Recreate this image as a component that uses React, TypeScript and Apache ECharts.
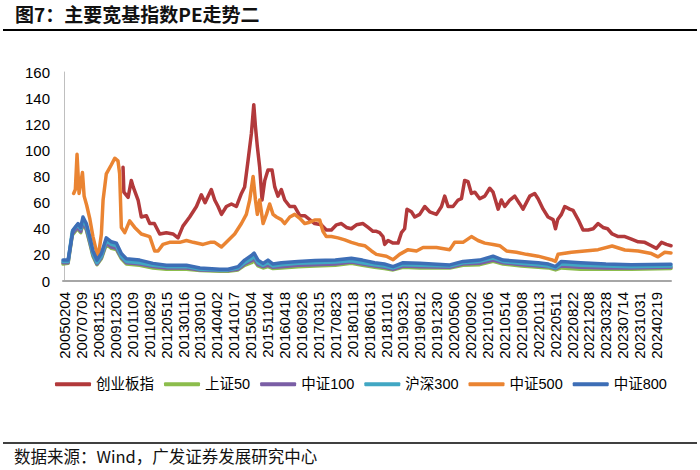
import React, { useEffect, useRef } from "react";
import * as echarts from "echarts";

const dateLabels = ["20050204","20070709","20081125","20091203","20101109","20110829","20120515","20130116","20130910","20140402","20141017","20150504","20151104","20160418","20160926","20170315","20170823","20180118","20180613","20181101","20190325","20190812","20191230","20200506","20200902","20210106","20210514","20210908","20220113","20220511","20220822","20221208","20230328","20230714","20231031","20240219"];

const seriesNames = ["创业板指", "上证50", "中证100", "沪深300", "中证500", "中证800"];
const seriesColors = ["#b2393b", "#8cbd4c", "#7a5ea5", "#41a7c3", "#ea8432", "#3d6eb6"];

// [label-index position, PE]
const cybData = [[3.45,87],[3.5,68],[3.75,64],[3.94,77],[4.05,72],[4.34,62],[4.53,49],[4.83,50],[5.03,44],[5.3,44],[5.62,36],[6.01,37],[6.4,36],[6.7,33],[6.99,42],[7.39,49],[7.79,57],[8.08,66],[8.3,60],[8.67,70],[8.87,62],[9.07,57],[9.27,51],[9.56,57],[9.86,59],[10.15,57],[10.45,67],[10.64,72],[10.84,92],[11.04,113],[11.18,135],[11.28,118],[11.39,103],[11.53,87],[11.67,62],[11.83,77],[12.02,85],[12.26,85],[12.42,72],[12.61,65],[12.81,70],[13.01,62],[13.31,57],[13.6,57],[13.9,50],[14.19,50],[14.49,47],[14.78,44],[15.18,43],[15.47,39],[15.77,39],[16.07,43],[16.36,44],[16.66,41],[16.95,40],[17.25,43],[17.64,44],[17.94,41],[18.23,38],[18.43,38],[18.62,37],[18.82,34],[18.92,28],[19.12,31],[19.42,29],[19.71,29],[19.91,37],[20.1,40],[20.24,55],[20.5,53],[20.7,49],[20.99,51],[21.29,57],[21.58,53],[21.98,51],[22.28,57],[22.47,65],[22.67,57],[22.96,57],[23.26,62],[23.46,63],[23.65,77],[23.85,76],[24.05,67],[24.25,68],[24.54,63],[24.84,65],[25.13,71],[25.33,68],[25.63,55],[25.82,62],[26.02,57],[26.32,62],[26.61,65],[26.91,59],[27.1,55],[27.3,60],[27.5,65],[27.79,67],[27.99,63],[28.29,55],[28.58,49],[28.88,47],[29.02,40],[29.15,47],[29.37,51],[29.57,57],[29.86,55],[30.06,54],[30.36,47],[30.65,39],[30.95,39],[31.25,40],[31.54,44],[31.83,41],[32.1,40],[32.37,36],[32.73,34],[33.12,34],[33.51,32],[33.91,30],[34.3,29.6],[34.69,27],[34.99,25],[35.29,29.6],[35.58,28],[35.85,27]];

const sz50Data = [[-0.1,13],[0.2,13.5],[0.45,35],[0.75,40],[0.95,37],[1.08,44],[1.28,39],[1.48,29],[1.67,19],[1.91,12.5],[2.17,17],[2.46,28],[2.76,25],[3.06,24],[3.35,17],[3.65,13],[4.43,12],[5.22,10],[6.01,9],[7.2,9],[8.0,8],[9.17,7.5],[9.66,7.5],[10.25,8.5],[10.64,12],[11.04,14],[11.2,15.5],[11.43,11.5],[11.73,10],[12.02,11],[12.32,9.5],[12.81,10],[13.8,11],[14.8,11.5],[16.0,12],[16.95,13.5],[17.6,12],[18.33,10.5],[18.9,9.5],[19.42,8.5],[20.01,10.5],[21.0,10],[22.77,10],[23.55,12],[24.54,12.5],[25.33,15],[25.92,13],[27.0,11.5],[28.0,10.5],[28.6,10],[29.02,8.5],[29.37,10],[30.5,9],[32.0,9],[33.5,9],[35.85,9.5]];

const zz100Data = [[-0.1,14],[0.2,14],[0.45,36],[0.75,41],[0.95,38],[1.08,45],[1.28,40],[1.48,30],[1.67,20],[1.91,13],[2.17,18],[2.46,29],[2.76,26],[3.06,25],[3.35,18],[3.65,14],[4.43,13],[5.22,11],[6.01,10],[7.2,10],[8.0,8.5],[9.17,8],[9.66,8],[10.25,9],[10.64,13],[11.04,15.5],[11.2,17],[11.43,12.5],[11.73,11],[12.02,12],[12.32,10.5],[12.81,11],[13.8,12],[14.8,12.5],[16.0,13],[16.95,14.5],[17.6,13],[18.33,11.5],[18.9,10.5],[19.42,9],[20.01,11.5],[21.0,11],[22.77,10.5],[23.55,13],[24.54,13.5],[25.33,16],[25.92,14],[27.0,12.5],[28.0,11.5],[28.6,11],[29.02,9.5],[29.37,11.5],[30.5,10.5],[32.0,10],[33.5,10],[35.85,10.5]];

const hs300Data = [[-0.1,15],[0.2,15],[0.45,38],[0.75,43],[0.95,40],[1.08,47],[1.28,42],[1.48,32],[1.67,21],[1.91,14],[2.17,19],[2.46,31],[2.76,28],[3.06,27],[3.35,19],[3.65,15],[4.43,14],[5.22,12],[6.01,11],[7.2,11],[8.0,9],[9.17,8.5],[9.66,8.5],[10.25,10],[10.64,14],[11.04,17],[11.2,19],[11.43,14],[11.73,12],[12.02,14],[12.32,11.5],[12.81,12.5],[13.8,13.5],[14.8,14],[16.0,14.5],[16.95,15.5],[17.6,14],[18.33,12.5],[18.9,11.5],[19.42,10],[20.01,12.5],[21.0,12],[22.77,11.5],[23.55,14],[24.54,15],[25.33,17.5],[25.92,15],[27.0,13.5],[28.0,12.5],[28.6,11.5],[29.02,10],[29.37,13],[30.5,12],[32.0,11.5],[33.5,11],[35.85,11.5]];

const zz500Data = [[0.53,67],[0.63,70],[0.73,97],[0.85,67],[1.05,83],[1.15,65],[1.3,58],[1.48,48],[1.67,34],[1.91,21],[1.98,18],[2.17,36],[2.27,62],[2.46,82],[2.76,89],[2.96,94],[3.15,92],[3.25,82],[3.35,41],[3.55,37],[3.84,46],[4.14,41],[4.53,36],[5.03,34],[5.32,23],[5.52,23],[5.81,28],[6.2,29.6],[6.8,29.6],[7.2,31],[7.6,29.6],[8.18,28],[8.6,29.6],[8.87,29.6],[9.27,26],[9.66,31],[10.05,36],[10.45,44],[10.74,51],[10.94,62],[11.14,80],[11.28,62],[11.39,51],[11.53,62],[11.73,44],[11.93,51],[12.12,59],[12.32,51],[12.52,49],[12.81,47],[13.01,44],[13.31,49],[13.6,51],[13.9,48],[14.19,44],[14.49,45],[14.78,46.7],[15.08,46.7],[15.27,38],[15.47,34],[15.77,34],[16.16,33],[16.56,31.5],[16.95,29.6],[17.35,28],[17.74,27],[18.14,23],[18.43,20.4],[19.02,19],[19.42,16.3],[19.8,20.4],[20.3,24],[20.8,23],[21.19,25.6],[21.98,25.6],[22.77,24],[23.06,29.6],[23.55,29.6],[24.05,34],[24.44,31],[24.84,29],[25.33,28],[25.72,27],[26.12,23],[26.71,22],[27.3,20.4],[27.99,19],[28.78,16.3],[29.02,15],[29.17,20.4],[29.96,22],[30.75,23],[31.54,24],[32.37,26.8],[33.12,23.7],[33.91,23],[34.69,21],[35.08,18.5],[35.48,22],[35.85,21.5]];

const zz800Data = [[-0.1,16],[0.2,16],[0.49,39],[0.79,44],[0.95,41],[1.08,49],[1.28,44],[1.48,34],[1.67,23],[1.91,16],[2.17,21],[2.46,33],[2.76,30],[3.06,29],[3.35,21],[3.65,17],[4.43,16],[5.22,13.5],[6.01,12],[7.2,12],[8.0,10],[9.17,9],[9.66,9],[10.25,11],[10.64,16],[11.04,19.5],[11.2,21.3],[11.43,16],[11.73,13.5],[12.02,16],[12.32,13],[12.81,14],[13.8,15],[14.8,15.7],[16.0,16],[16.95,17.4],[17.6,16],[18.33,14],[18.9,13],[19.42,11],[20.01,14],[21.0,13.5],[22.77,12.3],[23.55,15],[24.54,16],[25.33,19],[25.92,16],[27.0,15],[28.0,14],[28.6,13],[29.02,11],[29.37,15],[30.5,14],[32.0,13],[33.5,12.5],[35.85,12.8]];

const allData = [cybData, sz50Data, zz100Data, hs300Data, zz500Data, zz800Data];
const labelPositions = dateLabels.map((_, i) => i);

const titleText = "图7：主要宽基指数PE走势二";
const sourceText = "数据来源：Wind，广发证券发展研究中心";

export default function App() {
  const ref = useRef<HTMLDivElement>(null);
  useEffect(() => {
    if (!ref.current) return;
    const chart = echarts.init(ref.current, null, { renderer: "svg" });
    const latin = "'Liberation Sans', Arial, 'Noto Sans CJK SC', sans-serif";
    chart.setOption({
      animation: false,
      backgroundColor: "#ffffff",
      grid: { left: 63, right: 29, top: 72, bottom: 189 },
      legend: {
        data: seriesNames,
        left: 55,
        top: 377,
        padding: 0,
        icon: "roundRect",
        itemWidth: 36,
        itemHeight: 4,
        itemGap: 10,
        textStyle: { fontSize: 14.5, color: "#000", fontFamily: latin },
      },
      xAxis: {
        type: "value",
        min: -0.1,
        max: 35.85,
        axisLine: { show: true, lineStyle: { color: "#a6a6a6", width: 2 } },
        axisTick: { show: false },
        splitLine: { show: false },
        axisLabel: {
          customValues: labelPositions,
          rotate: 90,
          margin: 11,
          fontSize: 15,
          color: "#000",
          fontFamily: latin,
          formatter: (v: number) => dateLabels[Math.round(v)] ?? "",
        },
      },
      yAxis: {
        type: "value",
        min: 0,
        max: 160,
        interval: 20,
        axisLine: { show: true, lineStyle: { color: "#bfbfbf", width: 1 } },
        axisTick: { show: false },
        splitLine: { show: false },
        axisLabel: { fontSize: 15, color: "#000", margin: 13, fontFamily: latin },
      },
      series: seriesNames.map((name, k) => ({
        name,
        type: "line",
        data: allData[k],
        showSymbol: false,
        symbol: "none",
        color: seriesColors[k],
        lineStyle: { width: 3.5, color: seriesColors[k], join: "round", cap: "round" },
      })),
      graphic: [
        {
          type: "text",
          left: 15,
          top: 4,
          style: {
            text: titleText,
            fontSize: 19,
            fontWeight: "bold",
            fill: "#111",
            fontFamily: "'Noto Sans CJK SC', sans-serif",
          },
        },
        { type: "line", shape: { x1: 3, y1: 30, x2: 697, y2: 30 }, style: { stroke: "#000", lineWidth: 2 } },
        { type: "line", shape: { x1: 3, y1: 443, x2: 697, y2: 443 }, style: { stroke: "#000", lineWidth: 1.5 } },
        {
          type: "text",
          left: 14,
          top: 448,
          style: {
            text: sourceText,
            fontSize: 16.5,
            fill: "#111",
            fontFamily: "'Noto Sans CJK SC', sans-serif",
          },
        },
      ],
    });
    return () => chart.dispose();
  }, []);
  return <div ref={ref} style={{ position: "absolute", left: 0, top: 0, width: 700, height: 470 }} />;
}
